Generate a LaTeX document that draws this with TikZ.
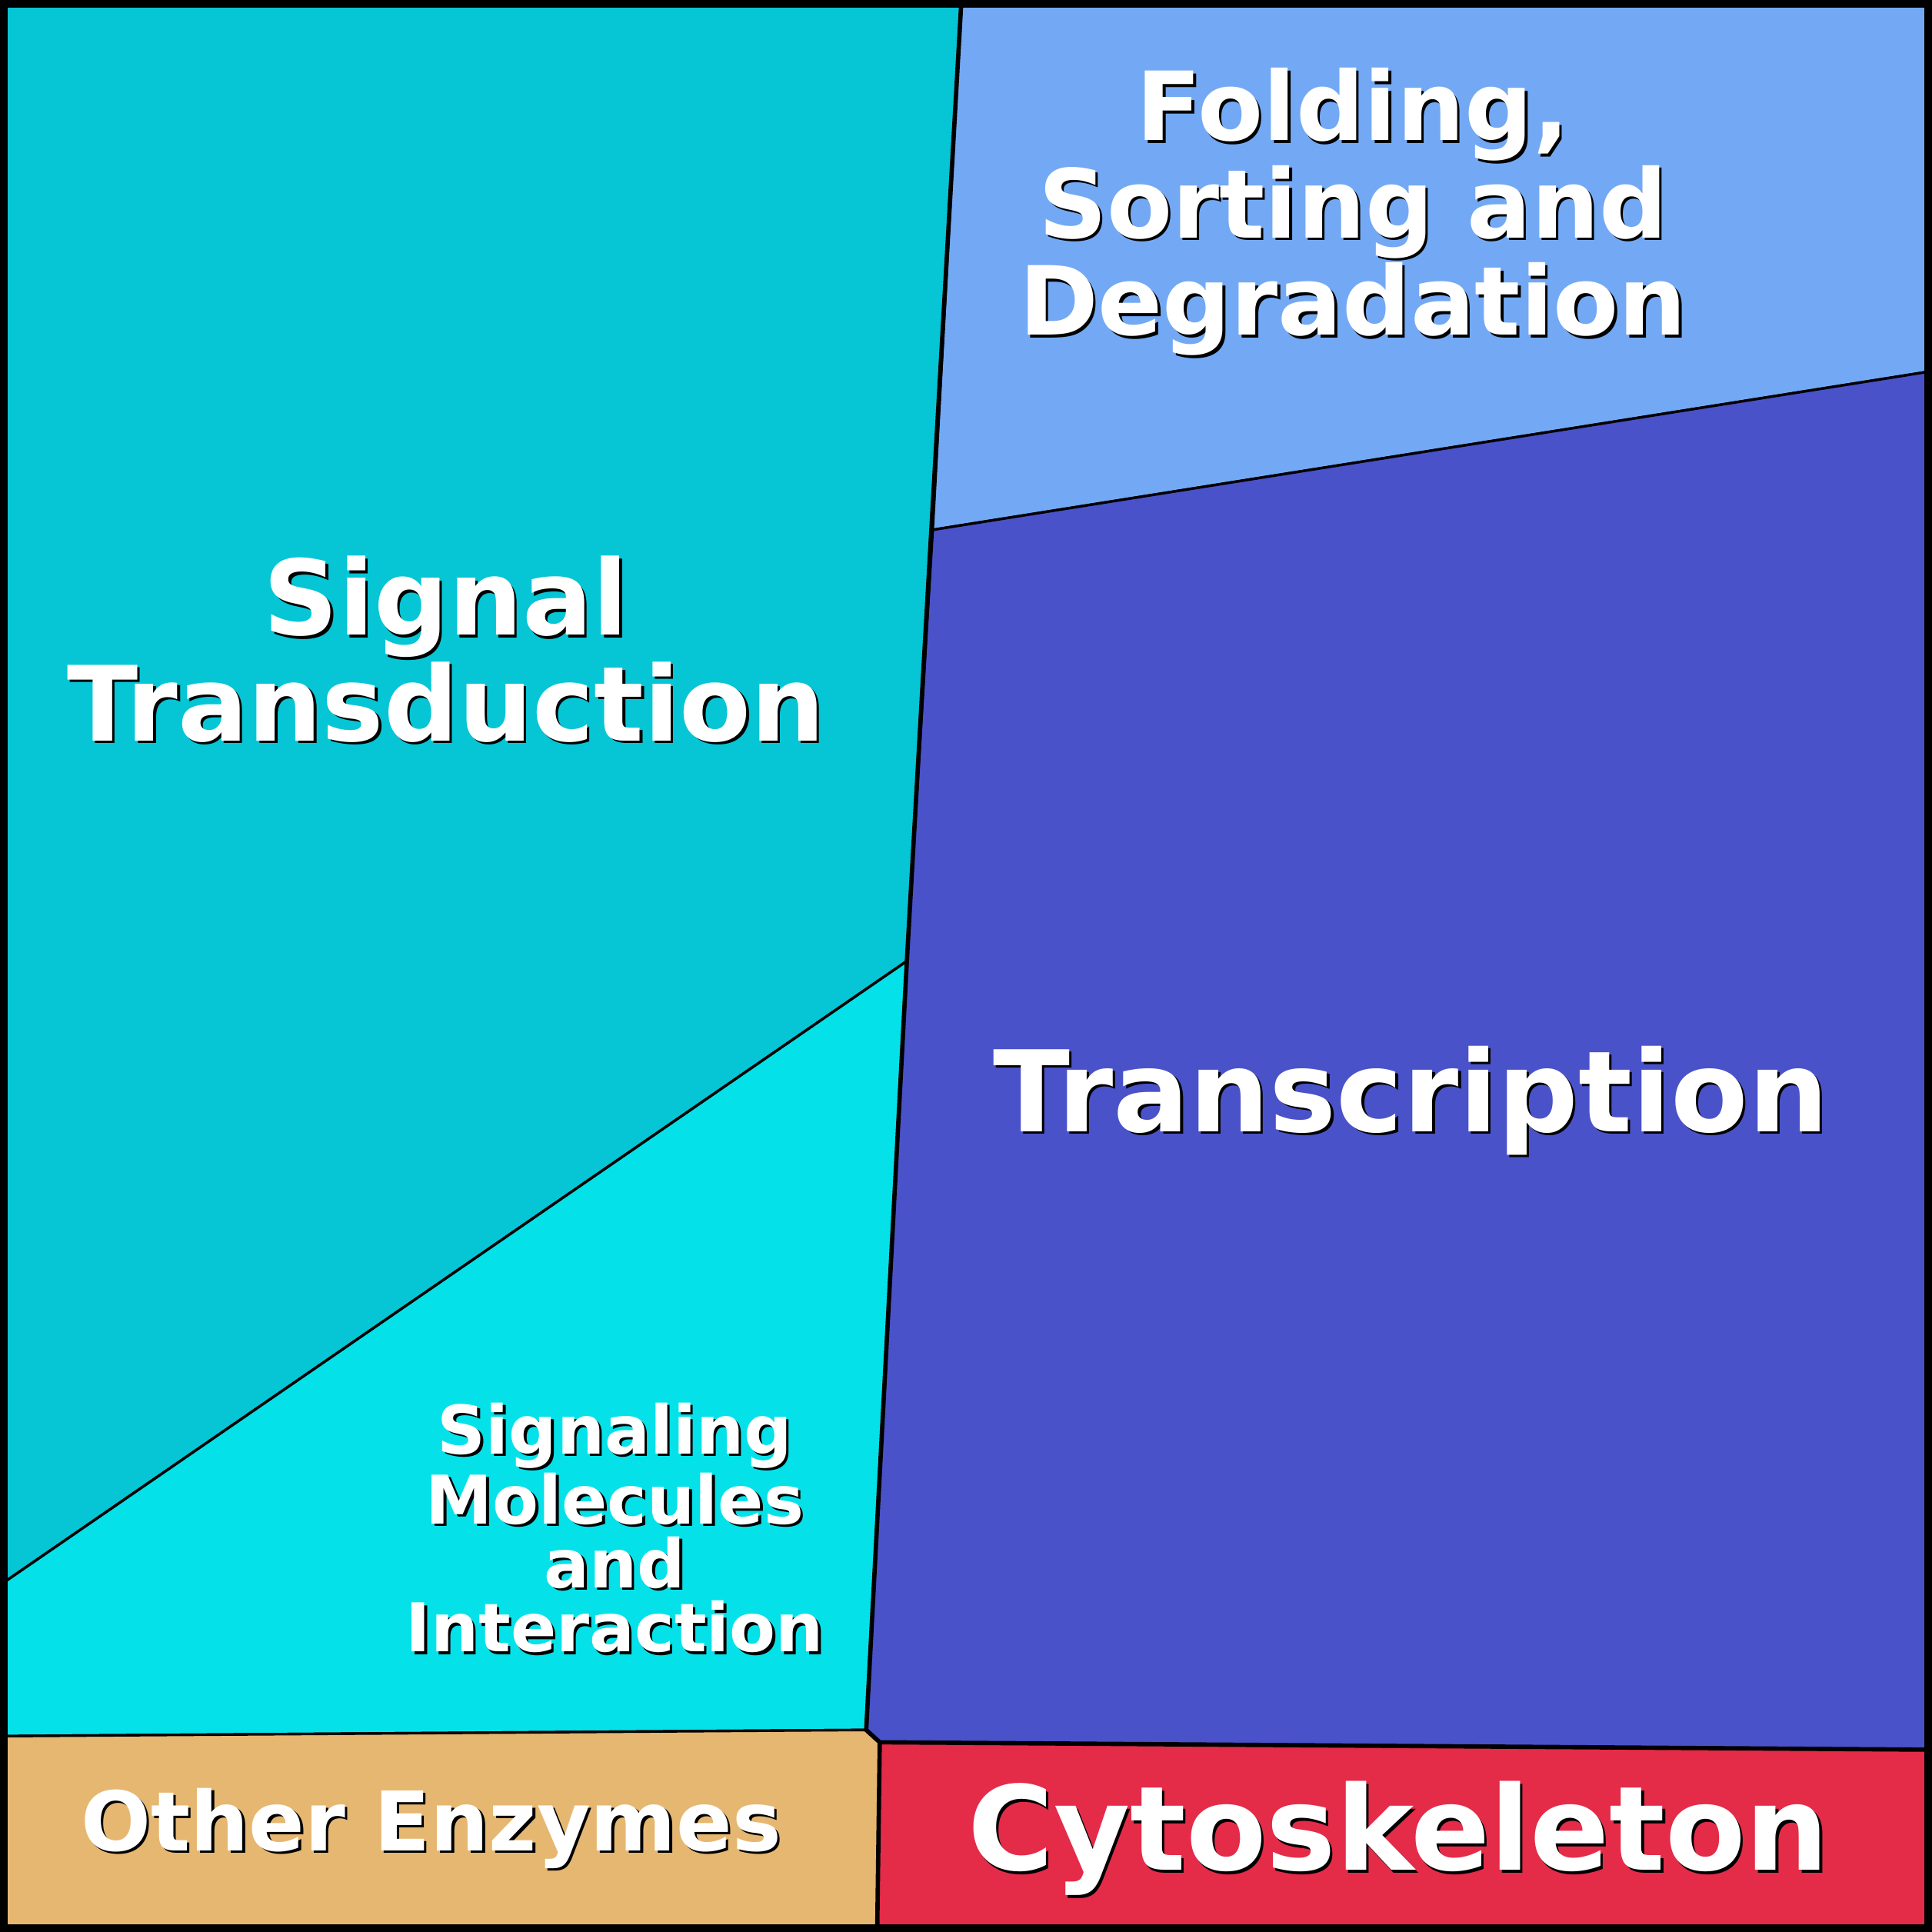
\documentclass[tikz,border=0pt]{standalone}
\usepackage{fontspec}
\setmainfont{DejaVu Sans}
\definecolor{sig}{HTML}{06C5D5}
\definecolor{fold}{HTML}{73A9F4}
\definecolor{trans}{HTML}{4A52C9}
\definecolor{mol}{HTML}{05E1E9}
\definecolor{oth}{HTML}{E6B771}
\definecolor{cyto}{HTML}{E42B48}
\begin{document}
\begin{tikzpicture}[x=0.01cm,y=-0.01cm,region/.style={draw=black,line width=0.6pt,line join=round},
  lab/.style={align=center,text=white,font=\bfseries},
  shd/.style={align=center,text=black,font=\bfseries,xshift=0.6pt,yshift=-0.6pt}]
\useasboundingbox (0,0) rectangle (1568,1568);
\filldraw[region,fill=sig] (5,5)--(780,5)--(757,430)--(736,780)--(5,1283)--cycle;
\filldraw[region,fill=fold] (780,5)--(1563,5)--(1563,302)--(757,430)--cycle;
\filldraw[region,fill=trans] (757,430)--(1563,302)--(1563,1420)--(714,1414)--(703,1404)--(736,780)--cycle;
\filldraw[region,fill=mol] (5,1283)--(736,780)--(703,1404)--(5,1409)--cycle;
\filldraw[region,fill=oth] (5,1409)--(703,1404)--(714,1414)--(712,1563)--(5,1563)--cycle;
\filldraw[region,fill=cyto] (714,1414)--(1563,1420)--(1563,1563)--(712,1563)--cycle;
\draw[line width=1pt] (780,5)--(736,780)--(703,1404)--(714,1414)--(1563,1420);
\draw[line width=1pt] (714,1414)--(712,1563);
\draw[line width=1.8pt] (3,3) rectangle (1565,1565);
\node[shd,font=\bfseries\fontsize{24}{22.6}\selectfont] (s1) at (362,527) {Signal\\Transduction};
\node[lab,font=\bfseries\fontsize{24}{22.6}\selectfont] (t1) at (362,527) {Signal\\Transduction};
\node[shd,font=\bfseries\fontsize{22}{20.7}\selectfont] (s2) at (1098,172) {Folding,\\Sorting and\\Degradation};
\node[lab,font=\bfseries\fontsize{22}{20.7}\selectfont] (t2) at (1098,172) {Folding,\\Sorting and\\Degradation};
\node[shd,font=\bfseries\fontsize{26}{30}\selectfont] (s3) at (1145,893) {Transcription};
\node[lab,font=\bfseries\fontsize{26}{30}\selectfont] (t3) at (1145,893) {Transcription};
\node[shd,font=\bfseries\fontsize{15.5}{14.8}\selectfont] (s4) at (499,1240) {Signaling\\Molecules\\and\\Interaction};
\node[lab,font=\bfseries\fontsize{15.5}{14.8}\selectfont] (t4) at (499,1240) {Signaling\\Molecules\\and\\Interaction};
\node[shd,font=\bfseries\fontsize{19}{22}\selectfont] (s5) at (350,1484) {Other Enzymes};
\node[lab,font=\bfseries\fontsize{19}{22}\selectfont] (t5) at (350,1484) {Other Enzymes};
\node[shd,font=\bfseries\fontsize{27}{30}\selectfont] (s6) at (1135,1492) {Cytoskeleton};
\node[lab,font=\bfseries\fontsize{27}{30}\selectfont] (t6) at (1135,1492) {Cytoskeleton};
\end{tikzpicture}
\end{document}
